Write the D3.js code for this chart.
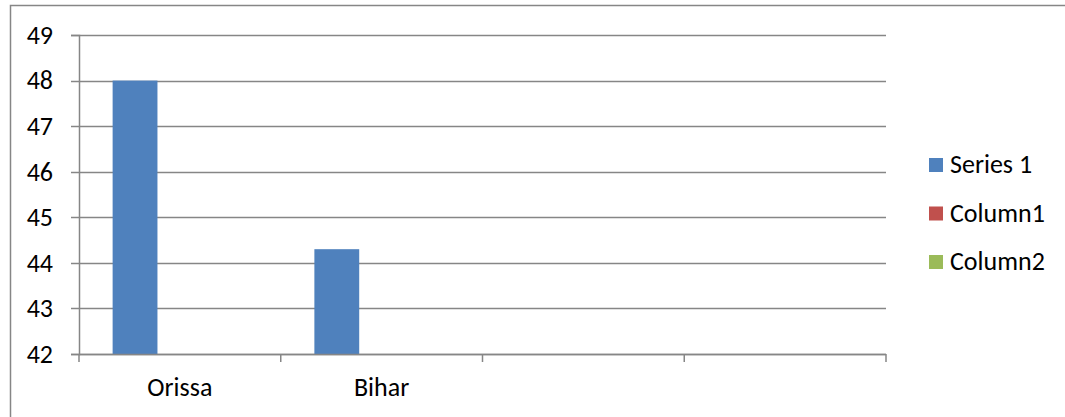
<!DOCTYPE html>
<html>
<head>
<meta charset="utf-8">
<script src="https://cdn.jsdelivr.net/npm/d3@7"></script>
<style>
  body { margin: 0; background: #fff; }
  text { font-family: Calibri, Carlito, "Open Sans", "Noto Sans", sans-serif; fill: #000; }
</style>
</head>
<body>
<div id="chart-area"></div>
<script>
// data
var categories = ["Orissa", "Bihar", "", " "];
var seriesNames = ["Series 1", "Column1", "Column2"];
var series1 = [48, 44.3, null, null];
var column1 = [null, null, null, null];
var column2 = [null, null, null, null];
var yTicks = [42, 43, 44, 45, 46, 47, 48, 49];
var colors = ["#4F81BD", "#C0504D", "#9BBB59"];

var W = 1065, H = 417;
var margin = { left: 79, right: 179, top: 35, bottom: 63 };
var width = W - margin.left - margin.right,
    height = H - margin.top - margin.bottom;
var fontSize = "26px";

var svg = d3.select("#chart-area")
  .append("svg")
    .attr("width", W)
    .attr("height", H);

// outer border (runs off the right and bottom)
svg.append("rect")
  .attr("x", 10.5).attr("y", 5.5)
  .attr("width", W + 20).attr("height", H + 20)
  .attr("fill", "none")
  .attr("stroke", "#868686")
  .attr("stroke-width", 1.5);

var g = svg.append("g")
  .attr("transform", "translate(" + margin.left + "," + margin.top + ")");

var x = d3.scaleBand()
  .domain(categories)
  .range([0, width]);

// excel gap width 150%: 3 bars + 1.5 bar gap
var barW = x.bandwidth() / 4.5;
var x1 = d3.scaleBand()
  .domain(seriesNames)
  .range([barW * 0.75, barW * 3.75]);

var y = d3.scaleLinear()
  .domain([42, 49])
  .range([height, 0]);

// gridlines
g.selectAll(".grid")
  .data(yTicks)
  .enter().append("line")
    .attr("x1", -8).attr("x2", width)
    .attr("y1", function(d) { return Math.round(y(d)) + 0.5; })
    .attr("y2", function(d) { return Math.round(y(d)) + 0.5; })
    .attr("stroke", "#868686")
    .attr("stroke-width", 1.5);

// y axis
var yAxis = g.append("g")
  .call(d3.axisLeft(y).tickValues(yTicks).tickSize(8).tickPadding(18).tickFormat(d3.format("d")));
yAxis.select(".domain").attr("stroke", "#868686").attr("stroke-width", 1.5);
yAxis.selectAll(".tick line").remove();
yAxis.attr("font-family", null);
yAxis.selectAll("text").attr("font-size", fontSize);

// bars
var allSeries = [series1, column1, column2];
seriesNames.forEach(function(name, i) {
  var vals = allSeries[i];
  g.selectAll(".bar" + i)
    .data(categories.map(function(c, j) { return { cat: c, v: vals[j] }; })
      .filter(function(d) { return d.v != null; }))
    .enter().append("rect")
      .attr("x", function(d) { return x(d.cat) + x1(name); })
      .attr("width", x1.bandwidth())
      .attr("y", function(d) { return y(d.v); })
      .attr("height", function(d) { return height - y(d.v); })
      .attr("fill", colors[i]);
});

// x axis
var xAxisGroup = g.append("g")
  .attr("transform", "translate(0," + height + ")");
xAxisGroup.append("line")
  .attr("x1", 0).attr("x2", width)
  .attr("y1", 0.5).attr("y2", 0.5)
  .attr("stroke", "#868686").attr("stroke-width", 1.5);
var bounds = categories.map(function(c) { return x(c); }).concat([width]);
xAxisGroup.selectAll(".xt")
  .data(bounds)
  .enter().append("line")
    .attr("x1", function(d) { return d; })
    .attr("x2", function(d) { return d; })
    .attr("y1", 0).attr("y2", 8)
    .attr("stroke", "#868686").attr("stroke-width", 1.5);
xAxisGroup.selectAll(".xl")
  .data(categories)
  .enter().append("text")
    .attr("x", function(d) { return x(d) + x.bandwidth() / 2; })
    .attr("y", 42)
    .attr("text-anchor", "middle")
    .attr("font-size", fontSize)
    .text(function(d) { return d.trim(); });

// legend
var legend = svg.append("g")
  .attr("transform", "translate(929,0)");
seriesNames.forEach(function(name, i) {
  var cy = 165 + i * 48.5;
  legend.append("rect")
    .attr("x", 0).attr("y", cy - 7)
    .attr("width", 14).attr("height", 14)
    .attr("fill", colors[i]);
  legend.append("text")
    .attr("x", 21).attr("y", cy + 8)
    .attr("font-size", fontSize)
    .text(name);
});
</script>
</body>
</html>
